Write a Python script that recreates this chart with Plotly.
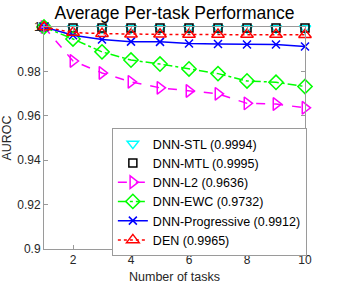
import plotly.graph_objects as go

tasks = [1, 2, 3, 4, 5, 6, 7, 8, 9, 10]
stl = [1.0, 0.9994, 0.9994, 0.9994, 0.9994, 0.9994, 0.9994, 0.9994, 0.9994, 0.9994]
mtl = [1.0, 0.9995, 0.9995, 0.9995, 0.9995, 0.9995, 0.9995, 0.9995, 0.9995, 0.9995]
l2 = [1.0, 0.9847, 0.9793, 0.9753, 0.9726, 0.9712, 0.9699, 0.9656, 0.9653, 0.9636]
ewc = [1.0, 0.9946, 0.9888, 0.9851, 0.9833, 0.9811, 0.9790, 0.9757, 0.9751, 0.9732]
prog = [1.0, 0.9963, 0.9944, 0.9934, 0.9933, 0.9926, 0.9923, 0.9921, 0.9921, 0.9912]
den = [1.0, 0.9975, 0.9970, 0.9967, 0.9967, 0.9966, 0.9966, 0.9966, 0.9966, 0.9965]

names = ["DNN-STL (0.9994)", "DNN-MTL (0.9995)", "DNN-L2 (0.9636)",
         "DNN-EWC (0.9732)", "DNN-Progressive (0.9912)", "DEN (0.9965)"]
series = [stl, mtl, l2, ewc, prog, den]
colors = ["#00FFFF", "#000000", "#FF00FF", "#00FF00", "#0000FF", "#FF0000"]
symbols = ["triangle-down-open", "square-open", "triangle-right-open",
           "diamond-open", "x-thin-open", "triangle-up-open"]
modes = ["markers", "markers", "lines+markers", "lines+markers", "lines+markers", "lines+markers"]
dashes = ["solid", "solid", "dash", "dashdot", "solid", "dot"]
sizes = [10, 8, 11, 11, 8, 11]

FONT = "Liberation Sans, Arial"

fig = go.Figure()
for y, n, c, s, m, d, sz in zip(series, names, colors, symbols, modes, dashes, sizes):
    fig.add_trace(go.Scatter(
        x=tasks, y=y, name=n, mode=m,
        line=dict(color=c, width=1.5, dash=d),
        marker=dict(symbol=s, size=sz, color=c, line=dict(color=c, width=1.5)),
        cliponaxis=False,
    ))

axis_common = dict(
    showgrid=False, zeroline=False, showline=True, linecolor="#9a9a9a", linewidth=1,
    mirror="ticks", ticks="inside", ticklen=4, tickcolor="#9a9a9a",
    tickfont=dict(family=FONT, size=12, color="#262626"),
    automargin=False,
)

fig.update_layout(
    width=337, height=284,
    margin=dict(l=44, r=32, t=27, b=35, autoexpand=False),
    paper_bgcolor="white", plot_bgcolor="white",
    title=dict(text="Average Per-task Performance", x=0.5, xanchor="center",
               xref="paper", yref="container", y=0.953, yanchor="middle",
               automargin=False,
               font=dict(family=FONT, size=17.5, color="#000000")),
    xaxis=dict(range=[1, 10], tickvals=[2, 4, 6, 8, 10],
               title=dict(text="Number of tasks", standoff=6,
                          font=dict(family=FONT, size=12.5, color="#262626")),
               **axis_common),
    yaxis=dict(range=[0.9, 1.0], tickvals=[0.9, 0.92, 0.94, 0.96, 0.98, 1.0],
               ticktext=["0.9", "0.92", "0.94", "0.96", "0.98", "1"],
               title=dict(text="AUROC", standoff=4,
                          font=dict(family=FONT, size=12.5, color="#262626")),
               **axis_common),
    legend=dict(x=0.26, y=0.545, xanchor="left", yanchor="top",
                bgcolor="white", bordercolor="#9a9a9a", borderwidth=1,
                font=dict(family=FONT, size=12.5, color="#000000"),
                itemwidth=30, tracegroupgap=0),
    showlegend=True,
)

# remove the browser's default 8px body margin so the figure fills the window
fig.write_html("out.html",
               config={"displayModeBar": False},
               post_script="document.body.style.margin='0px';document.body.style.overflow='hidden';")
